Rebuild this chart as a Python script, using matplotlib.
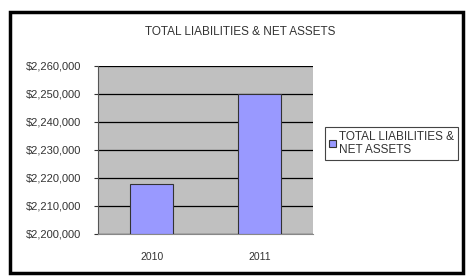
import matplotlib.pyplot as plt
from matplotlib.patches import Rectangle
from matplotlib.ticker import FuncFormatter

years = ["2010", "2011"]
totals = [2218000, 2250000]
title = "TOTAL LIABILITIES & NET ASSETS"
legend_label = "TOTAL LIABILITIES &\nNET ASSETS"

plt.rcParams["font.family"] = ["Liberation Sans", "DejaVu Sans"]

fig = plt.figure(figsize=(4.67, 2.76), dpi=100)
ax = fig.add_axes([0.2099, 0.1522, 0.4604, 0.6087])

ax.set_facecolor("#c0c0c0")
bars = ax.bar(range(len(years)), [t - 2200000 for t in totals], width=0.4,
              bottom=2200000, color="#9999ff", edgecolor="#333333",
              linewidth=0.8, label=legend_label, zorder=3)

ax.set_xlim(-0.5, 1.5)
ax.set_ylim(2200000, 2260000)
ax.set_yticks(range(2200000, 2260001, 10000))
ax.yaxis.set_major_formatter(FuncFormatter(lambda v, p: "${:,.0f}".format(v)))
ax.set_xticks(range(len(years)))
ax.set_xticklabels(years)
ax.tick_params(axis="x", length=0, labelsize=7.5, pad=13, colors="#333333")
ax.tick_params(axis="y", length=3, width=0.8, labelsize=8, pad=9,
               colors="#333333")
ax.grid(axis="y", color="black", linewidth=0.9, zorder=1)

for side in ["top", "right"]:
    ax.spines[side].set_visible(False)
ax.spines["left"].set_color("#555555")
ax.spines["bottom"].set_color("#888888")

fig.text(0.514, 0.885, title, ha="center", va="center", fontsize=8.5,
         color="#333333")

leg = fig.legend(loc="upper left", bbox_to_anchor=(0.696, 0.54),
                 fontsize=8.5, fancybox=False, edgecolor="#444444",
                 framealpha=1, handlelength=0.6, handleheight=0.6,
                 handletextpad=0.3, borderpad=0.3, borderaxespad=0,
                 labelspacing=0.2)
leg.get_frame().set_linewidth(0.8)
for t in leg.get_texts():
    t.set_color("#333333")

# black frame round the chart
fig.patches.append(Rectangle((10 / 467, 3 / 276), 453 / 467, 261 / 276,
                             transform=fig.transFigure, fill=False,
                             edgecolor="black", linewidth=2.5))

fig.savefig("out.png", dpi=100)
